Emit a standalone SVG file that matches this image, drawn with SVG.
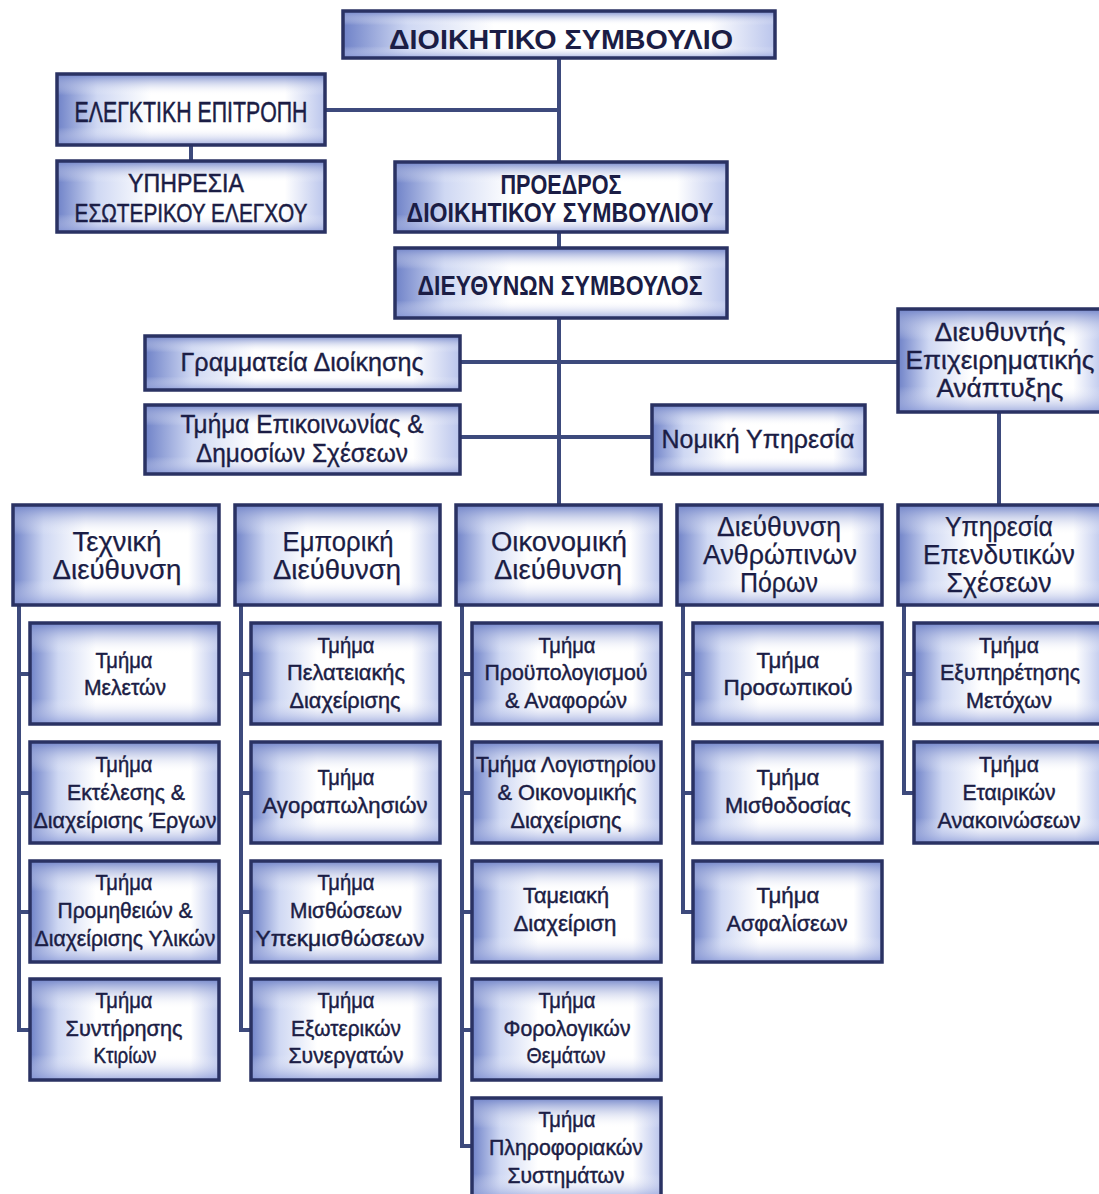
<svg xmlns="http://www.w3.org/2000/svg" width="1099" height="1194" viewBox="0 0 1099 1194">
<style>
.bg{fill:url(#gh)}
.bx{fill:url(#gv);stroke:#2a3263;stroke-width:3.5}
.ln{fill:none;stroke:#3d4a7c;stroke-width:4}
text{font-family:"Liberation Sans",Arial,sans-serif;fill:#1b1d45;text-anchor:middle}
.cap{font-weight:bold;font-size:28px}
.capn{font-size:29px;stroke:#1b1d45;stroke-width:0.5}
.capm{font-size:26px;stroke:#1b1d45;stroke-width:0.5}
.t1{font-size:25px;stroke:#1b1d45;stroke-width:0.35}
.t2{font-size:27px;stroke:#1b1d45;stroke-width:0.25}
.t3{font-size:22px;stroke:#1b1d45;stroke-width:0.45}
</style>
<defs>
<linearGradient id="gh" x1="0" y1="0" x2="1" y2="0">
<stop offset="0" stop-color="#6f82c8"/>
<stop offset="0.15" stop-color="#cfd8f3"/>
<stop offset="0.35" stop-color="#ffffff"/>
<stop offset="0.85" stop-color="#ffffff"/>
<stop offset="1" stop-color="#bac5ec"/>
</linearGradient>
<linearGradient id="gv" x1="0" y1="0" x2="0" y2="1">
<stop offset="0" stop-color="#6f82c8" stop-opacity="0.95"/>
<stop offset="0.3" stop-color="#ffffff" stop-opacity="0"/>
<stop offset="0.75" stop-color="#ffffff" stop-opacity="0"/>
<stop offset="1" stop-color="#8696d6" stop-opacity="0.75"/>
</linearGradient>
</defs>
<rect width="1099" height="1194" fill="#ffffff"/>

<g id="connectors">
<path class="ln" d="M559 58V162M325 110H559M191 145V161M559 232V248M559 318V505M460 362H898M460 437H652M999 412V505"/>
<path class="ln" d="M19 605V1030H30M19 674H30M19 793H30M19 912H30"/>
<path class="ln" d="M241 605V1030H251M241 674H251M241 793H251M241 912H251"/>
<path class="ln" d="M462 605V1146H472M462 674H472M462 793H472M462 912H472M462 1030H472"/>
<path class="ln" d="M683 605V912H693M683 674H693M683 793H693"/>
<path class="ln" d="M904 605V793H914M904 674H914"/>
</g>

<g id="board"><rect class="bg" x="343" y="11" width="432" height="47"/><rect class="bx" x="343" y="11" width="432" height="47"/>
<text class="cap" x="561" y="49" textLength="344" lengthAdjust="spacingAndGlyphs">ΔΙΟΙΚΗΤΙΚΟ ΣΥΜΒΟΥΛΙΟ</text></g>

<g id="audit"><rect class="bg" x="57" y="74" width="268" height="71"/><rect class="bx" x="57" y="74" width="268" height="71"/>
<text class="capn" x="191" y="122" textLength="233" lengthAdjust="spacingAndGlyphs">ΕΛΕΓΚΤΙΚΗ ΕΠΙΤΡΟΠΗ</text></g>

<g id="internal"><rect class="bg" x="57" y="161" width="268" height="71"/><rect class="bx" x="57" y="161" width="268" height="71"/>
<text class="capm" x="186" y="192" textLength="116" lengthAdjust="spacingAndGlyphs">ΥΠΗΡΕΣΙΑ</text>
<text class="capm" x="191" y="222" textLength="233" lengthAdjust="spacingAndGlyphs">ΕΣΩΤΕΡΙΚΟΥ ΕΛΕΓΧΟΥ</text></g>

<g id="chairman"><rect class="bg" x="395" y="162" width="332" height="70"/><rect class="bx" x="395" y="162" width="332" height="70"/>
<text class="cap" x="561" y="194" textLength="121" lengthAdjust="spacingAndGlyphs">ΠΡΟΕΔΡΟΣ</text>
<text class="cap" x="560" y="222" textLength="307" lengthAdjust="spacingAndGlyphs">ΔΙΟΙΚΗΤΙΚΟΥ ΣΥΜΒΟΥΛΙΟΥ</text></g>

<g id="ceo"><rect class="bg" x="395" y="248" width="332" height="70"/><rect class="bx" x="395" y="248" width="332" height="70"/>
<text class="cap" x="560" y="295" textLength="285" lengthAdjust="spacingAndGlyphs">ΔΙΕΥΘΥΝΩΝ ΣΥΜΒΟΥΛΟΣ</text></g>

<g id="secretariat"><rect class="bg" x="145" y="336" width="315" height="54"/><rect class="bx" x="145" y="336" width="315" height="54"/>
<text class="t1" x="302" y="371" textLength="243" lengthAdjust="spacingAndGlyphs">Γραμματεία Διοίκησης</text></g>

<g id="bizdev"><rect class="bg" x="898" y="309" width="206" height="103"/><rect class="bx" x="898" y="309" width="206" height="103"/>
<text class="t1" x="1000" y="341" textLength="131" lengthAdjust="spacingAndGlyphs">Διευθυντής</text>
<text class="t1" x="1000" y="369" textLength="189" lengthAdjust="spacingAndGlyphs">Επιχειρηματικής</text>
<text class="t1" x="1000" y="397" textLength="127" lengthAdjust="spacingAndGlyphs">Ανάπτυξης</text></g>

<g id="pr"><rect class="bg" x="145" y="405" width="315" height="69"/><rect class="bx" x="145" y="405" width="315" height="69"/>
<text class="t1" x="302" y="433" textLength="243" lengthAdjust="spacingAndGlyphs">Τμήμα Επικοινωνίας &amp;</text>
<text class="t1" x="302" y="462" textLength="212" lengthAdjust="spacingAndGlyphs">Δημοσίων Σχέσεων</text></g>

<g id="legal"><rect class="bg" x="652" y="405" width="213" height="69"/><rect class="bx" x="652" y="405" width="213" height="69"/>
<text class="t1" x="758" y="448" textLength="193" lengthAdjust="spacingAndGlyphs">Νομική Υπηρεσία</text></g>

<g id="technical"><rect class="bg" x="13" y="505" width="206" height="100"/><rect class="bx" x="13" y="505" width="206" height="100"/>
<text class="t2" x="117" y="551" textLength="89" lengthAdjust="spacingAndGlyphs">Τεχνική</text>
<text class="t2" x="117" y="579" textLength="129" lengthAdjust="spacingAndGlyphs">Διεύθυνση</text></g>

<g id="commercial"><rect class="bg" x="235" y="505" width="205" height="100"/><rect class="bx" x="235" y="505" width="205" height="100"/>
<text class="t2" x="338" y="551" textLength="111" lengthAdjust="spacingAndGlyphs">Εμπορική</text>
<text class="t2" x="337" y="579" textLength="128" lengthAdjust="spacingAndGlyphs">Διεύθυνση</text></g>

<g id="financial"><rect class="bg" x="456" y="505" width="205" height="100"/><rect class="bx" x="456" y="505" width="205" height="100"/>
<text class="t2" x="559" y="551" textLength="136" lengthAdjust="spacingAndGlyphs">Οικονομική</text>
<text class="t2" x="558" y="579" textLength="128" lengthAdjust="spacingAndGlyphs">Διεύθυνση</text></g>

<g id="hr"><rect class="bg" x="677" y="505" width="205" height="100"/><rect class="bx" x="677" y="505" width="205" height="100"/>
<text class="t2" x="779" y="536" textLength="124" lengthAdjust="spacingAndGlyphs">Διεύθυνση</text>
<text class="t2" x="780" y="564" textLength="154" lengthAdjust="spacingAndGlyphs">Ανθρώπινων</text>
<text class="t2" x="779" y="592" textLength="78" lengthAdjust="spacingAndGlyphs">Πόρων</text></g>

<g id="investor"><rect class="bg" x="898" y="505" width="206" height="100"/><rect class="bx" x="898" y="505" width="206" height="100"/>
<text class="t2" x="999" y="536" textLength="108" lengthAdjust="spacingAndGlyphs">Υπηρεσία</text>
<text class="t2" x="999" y="564" textLength="152" lengthAdjust="spacingAndGlyphs">Επενδυτικών</text>
<text class="t2" x="999" y="592" textLength="105" lengthAdjust="spacingAndGlyphs">Σχέσεων</text></g>

<g id="t-studies"><rect class="bg" x="30" y="623" width="189" height="101"/><rect class="bx" x="30" y="623" width="189" height="101"/>
<text class="t3" x="124" y="668" textLength="57" lengthAdjust="spacingAndGlyphs">Τμήμα</text>
<text class="t3" x="125" y="695" textLength="82" lengthAdjust="spacingAndGlyphs">Μελετών</text></g>

<g id="t-projects"><rect class="bg" x="30" y="742" width="189" height="101"/><rect class="bx" x="30" y="742" width="189" height="101"/>
<text class="t3" x="124" y="772" textLength="57" lengthAdjust="spacingAndGlyphs">Τμήμα</text>
<text class="t3" x="126" y="800" textLength="118" lengthAdjust="spacingAndGlyphs">Εκτέλεσης &amp;</text>
<text class="t3" x="125" y="828" textLength="183" lengthAdjust="spacingAndGlyphs">Διαχείρισης Έργων</text></g>

<g id="t-procurement"><rect class="bg" x="30" y="861" width="189" height="101"/><rect class="bx" x="30" y="861" width="189" height="101"/>
<text class="t3" x="124" y="890" textLength="57" lengthAdjust="spacingAndGlyphs">Τμήμα</text>
<text class="t3" x="125" y="918" textLength="135" lengthAdjust="spacingAndGlyphs">Προμηθειών &amp;</text>
<text class="t3" x="125" y="946" textLength="181" lengthAdjust="spacingAndGlyphs">Διαχείρισης Υλικών</text></g>

<g id="t-maintenance"><rect class="bg" x="30" y="979" width="189" height="101"/><rect class="bx" x="30" y="979" width="189" height="101"/>
<text class="t3" x="124" y="1008" textLength="57" lengthAdjust="spacingAndGlyphs">Τμήμα</text>
<text class="t3" x="124" y="1036" textLength="117" lengthAdjust="spacingAndGlyphs">Συντήρησης</text>
<text class="t3" x="125" y="1063" textLength="63" lengthAdjust="spacingAndGlyphs">Κτιρίων</text></g>

<g id="c-customers"><rect class="bg" x="251" y="623" width="189" height="101"/><rect class="bx" x="251" y="623" width="189" height="101"/>
<text class="t3" x="346" y="653" textLength="57" lengthAdjust="spacingAndGlyphs">Τμήμα</text>
<text class="t3" x="346" y="680" textLength="118" lengthAdjust="spacingAndGlyphs">Πελατειακής</text>
<text class="t3" x="345" y="708" textLength="111" lengthAdjust="spacingAndGlyphs">Διαχείρισης</text></g>

<g id="c-trading"><rect class="bg" x="251" y="742" width="189" height="101"/><rect class="bx" x="251" y="742" width="189" height="101"/>
<text class="t3" x="346" y="785" textLength="57" lengthAdjust="spacingAndGlyphs">Τμήμα</text>
<text class="t3" x="345" y="813" textLength="165" lengthAdjust="spacingAndGlyphs">Αγοραπωλησιών</text></g>

<g id="c-leases"><rect class="bg" x="251" y="861" width="189" height="101"/><rect class="bx" x="251" y="861" width="189" height="101"/>
<text class="t3" x="346" y="890" textLength="57" lengthAdjust="spacingAndGlyphs">Τμήμα</text>
<text class="t3" x="346" y="918" textLength="112" lengthAdjust="spacingAndGlyphs">Μισθώσεων</text>
<text class="t3" x="340" y="946" textLength="169" lengthAdjust="spacingAndGlyphs">Υπεκμισθώσεων</text></g>

<g id="c-partners"><rect class="bg" x="251" y="979" width="189" height="101"/><rect class="bx" x="251" y="979" width="189" height="101"/>
<text class="t3" x="346" y="1008" textLength="57" lengthAdjust="spacingAndGlyphs">Τμήμα</text>
<text class="t3" x="346" y="1036" textLength="110" lengthAdjust="spacingAndGlyphs">Εξωτερικών</text>
<text class="t3" x="346" y="1063" textLength="115" lengthAdjust="spacingAndGlyphs">Συνεργατών</text></g>

<g id="f-budget"><rect class="bg" x="472" y="623" width="189" height="101"/><rect class="bx" x="472" y="623" width="189" height="101"/>
<text class="t3" x="567" y="653" textLength="57" lengthAdjust="spacingAndGlyphs">Τμήμα</text>
<text class="t3" x="566" y="680" textLength="163" lengthAdjust="spacingAndGlyphs">Προϋπολογισμού</text>
<text class="t3" x="566" y="708" textLength="122" lengthAdjust="spacingAndGlyphs">&amp; Αναφορών</text></g>

<g id="f-accounting"><rect class="bg" x="472" y="742" width="189" height="101"/><rect class="bx" x="472" y="742" width="189" height="101"/>
<text class="t3" x="566" y="772" textLength="180" lengthAdjust="spacingAndGlyphs">Τμήμα Λογιστηρίου</text>
<text class="t3" x="567" y="800" textLength="139" lengthAdjust="spacingAndGlyphs">&amp; Οικονομικής</text>
<text class="t3" x="566" y="828" textLength="111" lengthAdjust="spacingAndGlyphs">Διαχείρισης</text></g>

<g id="f-treasury"><rect class="bg" x="472" y="861" width="189" height="101"/><rect class="bx" x="472" y="861" width="189" height="101"/>
<text class="t3" x="566" y="903" textLength="86" lengthAdjust="spacingAndGlyphs">Ταμειακή</text>
<text class="t3" x="565" y="931" textLength="103" lengthAdjust="spacingAndGlyphs">Διαχείριση</text></g>

<g id="f-tax"><rect class="bg" x="472" y="979" width="189" height="101"/><rect class="bx" x="472" y="979" width="189" height="101"/>
<text class="t3" x="567" y="1008" textLength="57" lengthAdjust="spacingAndGlyphs">Τμήμα</text>
<text class="t3" x="567" y="1036" textLength="127" lengthAdjust="spacingAndGlyphs">Φορολογικών</text>
<text class="t3" x="566" y="1063" textLength="79" lengthAdjust="spacingAndGlyphs">Θεμάτων</text></g>

<g id="f-it"><rect class="bg" x="472" y="1098" width="189" height="101"/><rect class="bx" x="472" y="1098" width="189" height="101"/>
<text class="t3" x="567" y="1127" textLength="57" lengthAdjust="spacingAndGlyphs">Τμήμα</text>
<text class="t3" x="566" y="1155" textLength="154" lengthAdjust="spacingAndGlyphs">Πληροφοριακών</text>
<text class="t3" x="566" y="1183" textLength="117" lengthAdjust="spacingAndGlyphs">Συστημάτων</text></g>

<g id="h-personnel"><rect class="bg" x="693" y="623" width="189" height="101"/><rect class="bx" x="693" y="623" width="189" height="101"/>
<text class="t3" x="788" y="668" textLength="63" lengthAdjust="spacingAndGlyphs">Τμήμα</text>
<text class="t3" x="788" y="695" textLength="129" lengthAdjust="spacingAndGlyphs">Προσωπικού</text></g>

<g id="h-payroll"><rect class="bg" x="693" y="742" width="189" height="101"/><rect class="bx" x="693" y="742" width="189" height="101"/>
<text class="t3" x="788" y="785" textLength="63" lengthAdjust="spacingAndGlyphs">Τμήμα</text>
<text class="t3" x="788" y="813" textLength="126" lengthAdjust="spacingAndGlyphs">Μισθοδοσίας</text></g>

<g id="h-insurance"><rect class="bg" x="693" y="861" width="189" height="101"/><rect class="bx" x="693" y="861" width="189" height="101"/>
<text class="t3" x="788" y="903" textLength="63" lengthAdjust="spacingAndGlyphs">Τμήμα</text>
<text class="t3" x="787" y="931" textLength="121" lengthAdjust="spacingAndGlyphs">Ασφαλίσεων</text></g>

<g id="i-shareholders"><rect class="bg" x="914" y="623" width="190" height="101"/><rect class="bx" x="914" y="623" width="190" height="101"/>
<text class="t3" x="1009" y="653" textLength="60" lengthAdjust="spacingAndGlyphs">Τμήμα</text>
<text class="t3" x="1010" y="680" textLength="140" lengthAdjust="spacingAndGlyphs">Εξυπηρέτησης</text>
<text class="t3" x="1009" y="708" textLength="86" lengthAdjust="spacingAndGlyphs">Μετόχων</text></g>

<g id="i-announcements"><rect class="bg" x="914" y="742" width="190" height="101"/><rect class="bx" x="914" y="742" width="190" height="101"/>
<text class="t3" x="1009" y="772" textLength="60" lengthAdjust="spacingAndGlyphs">Τμήμα</text>
<text class="t3" x="1009" y="800" textLength="93" lengthAdjust="spacingAndGlyphs">Εταιρικών</text>
<text class="t3" x="1009" y="828" textLength="143" lengthAdjust="spacingAndGlyphs">Ανακοινώσεων</text></g>
</svg>
